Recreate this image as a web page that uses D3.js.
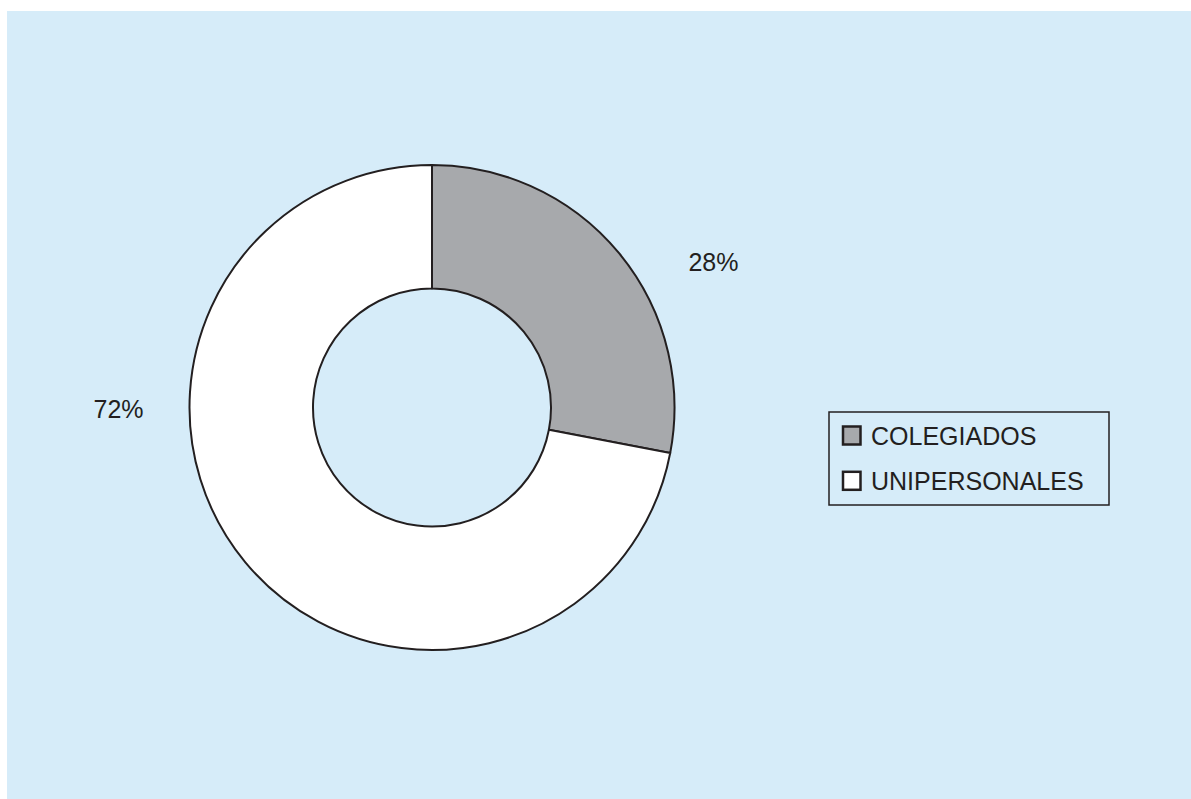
<!DOCTYPE html>
<html>
<head>
<meta charset="utf-8">
<script src="https://cdn.jsdelivr.net/npm/d3@7"></script>
<style>
  html, body { margin: 0; padding: 0; background: #ffffff; }
  svg { display: block; }
  text { font-family: "Liberation Sans", Arial, sans-serif; fill: #231f20; }
</style>
</head>
<body>
<svg id="chart" width="1191" height="799"></svg>
<script>
// Distribution of bodies by type
const categories = ["COLEGIADOS", "UNIPERSONALES"];
const values = [28, 72];
const valueLabels = ["28%", "72%"];
const colors = ["#a7a9ac", "#ffffff"];

const svg = d3.select("#chart");
const W = 1191, H = 799;

// panel background
svg.append("rect")
  .attr("x", 7).attr("y", 11)
  .attr("width", W - 7).attr("height", H - 11)
  .attr("fill", "#d6ecf9");

const cx = 432, cy = 407.5;
const outerR = 242.5, innerR = 119;

const pie = d3.pie().sort(null).value(d => d.value);
const arcs = pie(categories.map((c, i) => ({ name: c, value: values[i], label: valueLabels[i], color: colors[i] })));

const arc = d3.arc().innerRadius(innerR).outerRadius(outerR);

const g = svg.append("g").attr("transform", `translate(${cx},${cy})`);

g.selectAll("path.slice")
  .data(arcs)
  .join("path")
  .attr("class", "slice")
  .attr("d", arc)
  .attr("fill", d => d.data.color)
  .attr("stroke", "#231f20")
  .attr("stroke-width", 2)
  .attr("stroke-linejoin", "round");

// value labels placed outside the ring (angle in degrees from 12 o'clock, radius from centre)
const labelPlacement = [
  { angle: 62.6, radius: 317 },
  { angle: 269.8, radius: 313.5 }
];
g.selectAll("text.value")
  .data(arcs)
  .join("text")
  .attr("class", "value")
  .attr("x", (d, i) => labelPlacement[i].radius * Math.sin(labelPlacement[i].angle * Math.PI / 180))
  .attr("y", (d, i) => -labelPlacement[i].radius * Math.cos(labelPlacement[i].angle * Math.PI / 180))
  .attr("text-anchor", "middle")
  .attr("dy", "0.36em")
  .attr("font-size", 25)
  .text(d => d.data.label);

// legend
const legend = svg.append("g").attr("transform", "translate(829,412)");
legend.append("rect")
  .attr("x", 0).attr("y", 0)
  .attr("width", 280).attr("height", 93)
  .attr("fill", "none")
  .attr("stroke", "#231f20")
  .attr("stroke-width", 1.5);

const rowY = d3.scalePoint().domain(categories).range([23.5, 68.8]);
const items = legend.selectAll("g.item")
  .data(arcs)
  .join("g")
  .attr("class", "item")
  .attr("transform", d => `translate(0,${rowY(d.data.name)})`);

items.append("rect")
  .attr("x", 14).attr("y", -9)
  .attr("width", 17.5).attr("height", 18)
  .attr("fill", d => d.data.color)
  .attr("stroke", "#231f20")
  .attr("stroke-width", 2.5);

items.append("text")
  .attr("x", 42)
  .attr("y", 0)
  .attr("dy", "0.36em")
  .attr("font-size", 25)
  .text(d => d.data.name);
</script>
</body>
</html>
